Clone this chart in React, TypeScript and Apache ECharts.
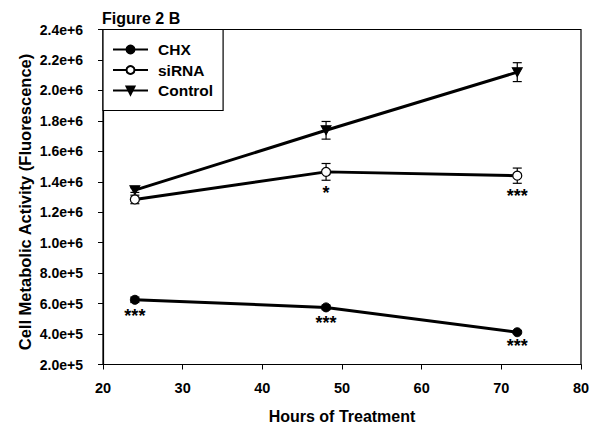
import React, { useEffect, useRef } from "react";
import * as echarts from "echarts";

const hours = [24, 48, 72];
const chx = [625000, 575000, 412000];
const chxErr = [18000, 15000, 8000];
const sirna = [1284000, 1465000, 1440000];
const sirnaErr = [28000, 55000, 50000];
const control = [1345000, 1738000, 2120000];
const controlErr = [15000, 58000, 62000];
const chxSig = ["***", "***", "***"];
const sirnaSig = ["", "*", "***"];
const controlSig = ["", "", ""];
const yTicks = ["2.0e+5", "4.0e+5", "6.0e+5", "8.0e+5", "1.0e+6", "1.2e+6", "1.4e+6", "1.6e+6", "1.8e+6", "2.0e+6", "2.2e+6", "2.4e+6"];
const yTitle = "Cell Metabolic Activity (Fluorescence)";

const FONT = "Arial, 'Liberation Sans', sans-serif";

export default function App() {
  const ref = useRef<HTMLDivElement>(null);
  useEffect(() => {
    if (!ref.current) return;
    const chart = echarts.init(ref.current, null, { renderer: "svg" });
    const errData = (vals: number[], errs: number[]) =>
      hours.map((h, i) => [h, vals[i] - errs[i], vals[i] + errs[i]]);
    const errSeries = (name: string, vals: number[], errs: number[], sig: string[]) => ({
      type: "custom",
      name: name + "_err",
      data: errData(vals, errs),
      z: 1,
      renderItem: (params: any, api: any) => {
        const x = api.value(0);
        const lo = api.coord([x, api.value(1)]);
        const hi = api.coord([x, api.value(2)]);
        const w = 4.5;
        const style = { stroke: "#000", lineWidth: 1.2 };
        const children: any[] = [
          { type: "line", shape: { x1: lo[0], y1: lo[1], x2: hi[0], y2: hi[1] }, style },
          { type: "line", shape: { x1: lo[0] - w, y1: lo[1], x2: lo[0] + w, y2: lo[1] }, style },
          { type: "line", shape: { x1: hi[0] - w, y1: hi[1], x2: hi[0] + w, y2: hi[1] }, style },
        ];
        const s = sig[params.dataIndex];
        if (s) {
          children.push({
            type: "text",
            x: lo[0],
            y: lo[1] + 4,
            style: {
              text: s,
              align: "center",
              verticalAlign: "top",
              fill: "#000",
              font: "bold 18px " + FONT,
            },
          });
        }
        return { type: "group", children };
      },
    });
    chart.setOption({
      animation: false,
      title: {
        text: "Figure 2 B",
        left: 102,
        top: 10,
        padding: 0,
        textStyle: { fontFamily: FONT, fontWeight: "bold", fontSize: 16, color: "#000" },
      },
      graphic: [
        {
          type: "text",
          x: 25,
          y: 202,
          rotation: Math.PI / 2,
          style: {
            text: yTitle,
            align: "center",
            verticalAlign: "middle",
            fill: "#000",
            font: "bold 16.5px " + FONT,
          },
        },
      ],
      grid: {
        left: 103,
        top: 29.5,
        right: 11,
        bottom: 59.5,
        show: true,
        borderColor: "#000",
        borderWidth: 1.2,
        containLabel: false,
        outerBoundsMode: "none",
      },
      legend: {
        left: 103,
        top: 29.5,
        orient: "vertical",
        data: ["CHX", "siRNA", "Control"],
        backgroundColor: "#fff",
        borderColor: "#000",
        borderWidth: 1.2,
        padding: [12, 10, 12, 9],
        itemWidth: 35,
        itemHeight: 10,
        itemGap: 4.5,
        textStyle: { fontFamily: FONT, fontWeight: "bold", fontSize: 15.5, color: "#000", padding: [0, 0, 0, 5] },
      },
      xAxis: {
        type: "value",
        min: 20,
        max: 80,
        interval: 10,
        name: "Hours of Treatment",
        nameLocation: "middle",
        nameGap: 44,
        nameTextStyle: { fontFamily: FONT, fontWeight: "bold", fontSize: 16, color: "#000" },
        axisLine: { lineStyle: { color: "#000", width: 1.2 } },
        axisTick: { show: true, length: 5, lineStyle: { color: "#000" } },
        axisLabel: { fontFamily: FONT, fontWeight: "bold", fontSize: 14.5, color: "#000", margin: 16 },
        splitLine: { show: false },
      },
      yAxis: {
        type: "value",
        min: 200000,
        max: 2400000,
        interval: 200000,
        axisLine: { show: true, lineStyle: { color: "#000", width: 1.2 } },
        axisTick: { show: true, length: 5, lineStyle: { color: "#000" } },
        axisLabel: {
          fontFamily: FONT,
          fontWeight: "bold",
          fontSize: 14,
          color: "#000",
          margin: 20,
          formatter: (v: number) => yTicks[Math.round((v - 200000) / 200000)],
        },
        splitLine: { show: false },
      },
      series: [
        errSeries("CHX", chx, chxErr, chxSig),
        errSeries("siRNA", sirna, sirnaErr, sirnaSig),
        errSeries("Control", control, controlErr, controlSig),
        {
          type: "line",
          name: "CHX",
          data: hours.map((h, i) => [h, chx[i]]),
          symbol: "circle",
          symbolSize: 9,
          lineStyle: { color: "#000", width: 3 },
          itemStyle: { color: "#000", borderColor: "#000", borderWidth: 1 },
          z: 3,
        },
        {
          type: "line",
          name: "siRNA",
          data: hours.map((h, i) => [h, sirna[i]]),
          symbol: "circle",
          symbolSize: 9,
          lineStyle: { color: "#000", width: 3 },
          itemStyle: { color: "#fff", borderColor: "#000", borderWidth: 1.2 },
          z: 3,
        },
        {
          type: "line",
          name: "Control",
          data: hours.map((h, i) => [h, control[i]]),
          symbol: "path://M0,0 L10,0 L5,9 Z",
          symbolSize: [10, 9],
          lineStyle: { color: "#000", width: 3 },
          itemStyle: { color: "#000", borderColor: "#000", borderWidth: 1 },
          z: 3,
        },
      ],
    });
    return () => chart.dispose();
  }, []);
  return <div ref={ref} style={{ width: 592, height: 424, position: "absolute", left: 0, top: 0, background: "#fff" }} />;
}
